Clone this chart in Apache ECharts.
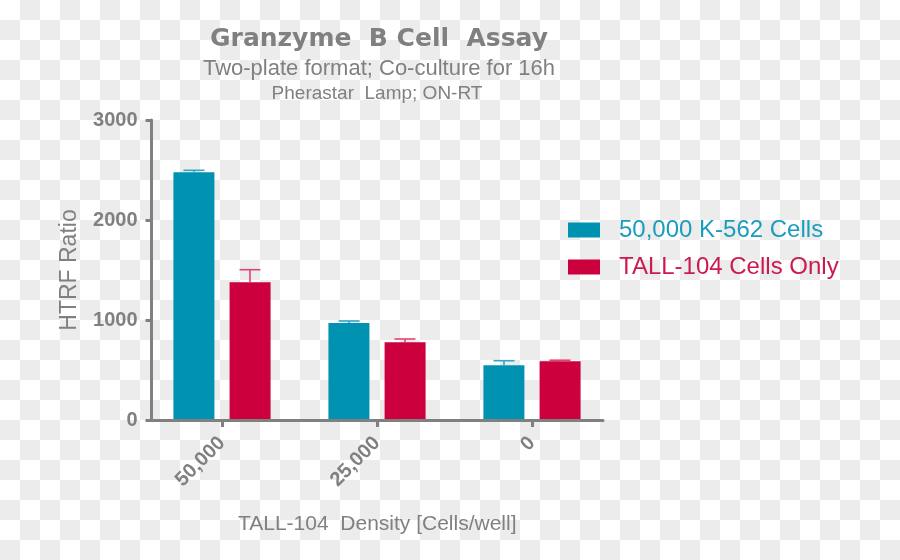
<!DOCTYPE html>
<html>
<head>
<meta charset="utf-8">
<script src="https://cdn.jsdelivr.net/npm/echarts@6/dist/echarts.min.js"></script>
<style>
html,body{margin:0;padding:0;width:900px;height:560px;overflow:hidden;}
body{background-color:#ffffff;
background-image:conic-gradient(#ececec 25%, transparent 0 50%, #ececec 0 75%, transparent 0);
background-size:40px 40px;}
#chart{width:900px;height:560px;}
</style>
</head>
<body>
<div id="chart"></div>
<script>
// ---- data ----
const categories = ['50,000', '25,000', '0'];
const k562Values = [2477, 970, 547];
const k562Errors = [20, 20, 46];
const tallValues = [1377, 777, 588];
const tallErrors = [126, 33, 10];
const yTicks = [0, 1000, 2000, 3000];
const seriesNames = ['50,000 K-562 Cells', 'TALL-104 Cells Only'];

// ---- styling ----
const GREY = '#808080';
const TEAL = '#0093b1';
const RED = '#cc003d';
const TEAL_ERR = '#33a8c4';
const RED_ERR = '#e04471';
const FONT = "'Liberation Sans', Arial, sans-serif";

function errData(vals, errs) {
  return vals.map((v, i) => [i, v, v + errs[i]]);
}
function errRender(color, offset) {
  return function (params, api) {
    const base = api.coord([api.value(0), api.value(1)]);
    const top = api.coord([api.value(0), api.value(2)]);
    const x = base[0] + offset;
    const half = 10.5;
    return {
      type: 'group',
      children: [
        { type: 'line', shape: { x1: x, y1: base[1], x2: x, y2: top[1] }, style: { stroke: color, lineWidth: 1.6 } },
        { type: 'line', shape: { x1: x - half, y1: top[1], x2: x + half, y2: top[1] }, style: { stroke: color, lineWidth: 1.6 } }
      ]
    };
  };
}

const chart = echarts.init(document.getElementById('chart'), null, { renderer: 'canvas' });
chart.setOption({
  backgroundColor: 'transparent',
  animation: false,
  title: [
    { text: 'Granzyme  B Cell  Assay', left: 379, top: 27, textAlign: 'center', padding: 0,
      textStyle: { fontFamily: "'DejaVu Sans', sans-serif", fontWeight: 'bold', fontSize: 25, color: GREY } },
    { text: 'Two-plate format; Co-culture for 16h', left: 379, top: 58, textAlign: 'center', padding: 0,
      textStyle: { fontFamily: FONT, fontWeight: 'normal', fontSize: 22, color: GREY } },
    { text: 'Pherastar  Lamp; ON-RT', left: 377, top: 84, textAlign: 'center', padding: 0,
      textStyle: { fontFamily: FONT, fontWeight: 'normal', fontSize: 19, color: GREY } }
  ],
  legend: {
    orient: 'vertical', left: 568, top: 218, itemWidth: 32, itemHeight: 15, itemGap: 13,
    icon: 'rect', padding: 0,
    data: [
      { name: seriesNames[0], textStyle: { color: '#1a9dbd' } },
      { name: seriesNames[1], textStyle: { color: '#cc1a4e' } }
    ],
    textStyle: { fontFamily: FONT, fontSize: 24, padding: [0, 0, 0, 14] }
  },
  grid: [
    { left: 151.5, top: 120, width: 451.5, height: 300, containLabel: false },
    { left: 144.5, top: 120, width: 465, height: 300, containLabel: false }
  ],
  xAxis: [
    { type: 'category', gridIndex: 0, data: categories, z: 5,
      axisLine: { show: true, lineStyle: { color: GREY, width: 3 } },
      axisTick: { show: false }, axisLabel: { show: false }, splitLine: { show: false },
      name: 'TALL-104  Density [Cells/well]', nameLocation: 'middle', nameGap: 94,
      nameTextStyle: { fontFamily: FONT, fontSize: 21, color: GREY } },
    { type: 'category', gridIndex: 1, data: categories,
      axisLine: { show: false },
      axisTick: { show: true, alignWithLabel: true, length: 7, lineStyle: { color: GREY, width: 3 } },
      axisLabel: { show: true, rotate: 45, margin: 20, fontFamily: FONT, fontWeight: 'bold', fontSize: 20, color: GREY },
      splitLine: { show: false } }
  ],
  yAxis: [
    { type: 'value', gridIndex: 0, min: yTicks[0], max: yTicks[yTicks.length - 1], interval: yTicks[1] - yTicks[0], z: 5,
      axisLine: { show: true, lineStyle: { color: GREY, width: 3 } },
      axisTick: { show: true, length: 6, lineStyle: { color: GREY, width: 3 } },
      axisLabel: { margin: 14, fontFamily: FONT, fontWeight: 'bold', fontSize: 20, color: GREY,
        formatter: function (v) { return String(v); } },
      splitLine: { show: false },
      name: 'HTRF Ratio', nameLocation: 'middle', nameGap: 70,
      nameTextStyle: { fontFamily: FONT, fontSize: 23, color: GREY } },
    { type: 'value', gridIndex: 1, min: yTicks[0], max: yTicks[yTicks.length - 1], show: false, splitLine: { show: false } }
  ],
  series: [
    { name: seriesNames[0], type: 'bar', xAxisIndex: 1, yAxisIndex: 1, data: k562Values,
      barWidth: 41, barGap: '37%', itemStyle: { color: TEAL } },
    { name: seriesNames[1], type: 'bar', xAxisIndex: 1, yAxisIndex: 1, data: tallValues,
      barWidth: 41, barGap: '37%', itemStyle: { color: RED } },
    { name: 'k562err', type: 'custom', xAxisIndex: 1, yAxisIndex: 1, z: 4,
      data: errData(k562Values, k562Errors), renderItem: errRender(TEAL_ERR, -28) },
    { name: 'tallerr', type: 'custom', xAxisIndex: 1, yAxisIndex: 1, z: 4,
      data: errData(tallValues, tallErrors), renderItem: errRender(RED_ERR, 28) }
  ]
});
</script>
</body>
</html>
